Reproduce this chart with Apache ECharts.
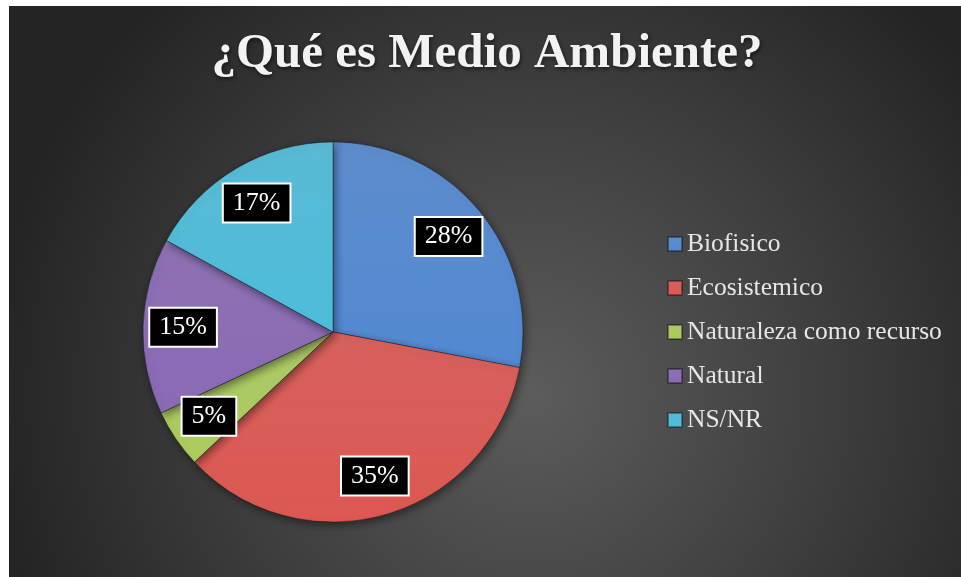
<!DOCTYPE html>
<html>
<head>
<meta charset="utf-8">
<script src="https://cdn.jsdelivr.net/npm/echarts@6/dist/echarts.min.js"></script>
<style>
html,body{margin:0;padding:0;background:#ffffff;}
#c{width:961px;height:577px;}
</style>
</head>
<body>
<div id="c"></div>
<script>
const titleText = '¿Qué es Medio Ambiente?';
const categories = ['Biofisico', 'Ecosistemico', 'Naturaleza como recurso', 'Natural', 'NS/NR'];
const values = [28, 35, 5, 15, 17];
const colors = ['#4f83c8', '#d3544f', '#a3c35a', '#8465ad', '#4bb4d1'];

const chart = echarts.init(document.getElementById('c'), null, {renderer: 'canvas'});
const serif = '"Liberation Serif", "DejaVu Serif", serif';

const data = categories.map((n, i) => ({
  name: n,
  value: values[i],
  itemStyle: {
    color: {
      type: 'linear', x: 0, y: 0, x2: 0, y2: 1,
      colorStops: [
        {offset: 0, color: echarts.color.lift(colors[i], 0.08)},
        {offset: 1, color: echarts.color.lift(colors[i], -0.05)}
      ]
    }
  }
}));

chart.setOption({
  animation: false,
  backgroundColor: '#ffffff',
  graphic: [{
    type: 'rect',
    z: -10,
    shape: {x: 9, y: 6, width: 952, height: 571},
    style: {
      fill: {
        type: 'radial', x: 0.55, y: 0.68, r: 0.95,
        colorStops: [
          {offset: 0, color: '#5c5c5c'},
          {offset: 0.55, color: '#3e3e3e'},
          {offset: 1, color: '#242424'}
        ]
      }
    }
  }],
  title: {
    text: titleText,
    left: 487,
    textAlign: 'center',
    top: 30,
    padding: 0,
    textStyle: {
      color: '#f2f2f2',
      fontFamily: serif,
      fontWeight: 'bold',
      fontSize: 49,
      textShadowColor: 'rgba(0,0,0,0.6)',
      textShadowBlur: 4,
      textShadowOffsetX: 1,
      textShadowOffsetY: 2
    }
  },
  legend: {
    orient: 'vertical',
    left: 667,
    top: 231,
    padding: 0,
    itemWidth: 14,
    itemHeight: 14,
    itemGap: 18,
    icon: 'rect',
    data: categories,
    textStyle: {
      color: '#e6e6e6',
      fontFamily: serif,
      fontSize: 25.5,
      lineHeight: 26,
      padding: [0, 0, 0, 0]
    }
  },
  series: [{
    type: 'pie',
    center: [333, 332],
    radius: 190,
    startAngle: 90,
    clockwise: true,
    data: data,
    label: {show: false},
    labelLine: {show: false},
    itemStyle: {
      borderColor: 'rgba(0,0,0,0.35)',
      borderWidth: 1,
      shadowColor: 'rgba(0,0,0,0.45)',
      shadowBlur: 8,
      shadowOffsetX: 2,
      shadowOffsetY: 3
    }
  }, {
    type: 'pie',
    center: [333, 332],
    radius: [104, 190],
    startAngle: 90,
    clockwise: true,
    silent: true,
    legendHoverLink: false,
    data: categories.map((n, i) => ({name: n, value: values[i]})),
    itemStyle: {color: 'rgba(0,0,0,0)'},
    labelLine: {show: false},
    label: {
      show: true,
      position: 'inside',
      formatter: p => p.value + '%',
      color: '#ffffff',
      fontFamily: serif,
      fontSize: 26,
      backgroundColor: '#000000',
      borderColor: '#ffffff',
      borderWidth: 2,
      padding: [6, 9, 5, 9]
    }
  }]
});
</script>
</body>
</html>
